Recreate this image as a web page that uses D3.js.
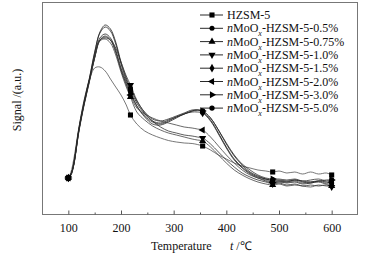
<!DOCTYPE html>
<html><head><meta charset="utf-8">
<script src="https://cdn.jsdelivr.net/npm/d3@7"></script>
<style>body{margin:0;background:#fff}svg{display:block}text{font-family:"Liberation Serif","Times New Roman",serif;fill:#111}</style>
</head><body><svg id="c" width="368" height="258"></svg>
<script>
const temps = [100,105,110,120,130,140,150,160,170,180,190,200,210,218,230,245,260,275,290,305,320,335,345,355,370,385,400,415,430,445,460,475,488,500,515,530,545,560,575,590,600];
const markerTemps = [100,218,355,488,600];
const seriesNames = ["HZSM-5","0.5%","0.75%","1.0%","1.5%","2.0%","3.0%","5.0%"];
const hzsm5   = [36,42,54,86,114,134,146,147,143,135,127,119,109,99,90,83,79,76,73.5,72,71,70.5,69.5,68,64,59,55,51,48,46,44,43,42,43,41,42,40,42,40,41,39];
const mo05    = [36,40,50,86,113,136,162,182,189,185,172,152,136,126,113,102,95,93,95,98,101,104,104,102,94,81,67,55,47,41,37,35,33,33,32,34,32,31,33,32,31];
const mo075   = [36,39,48,82,109,132,156,173,175,171,159,142,127,117,102,94,88,84,81,79,77,75,74,73,67,59,51,44,39,35,32,30,29,30,28,29,28,27,29,28,28];
const mo10    = [36,39,48,83,110,133,158,174,176,174,166,152,138,129,114,101,93,87,83,81,79,78,77,76,70,62,54,47,41,37,34,32,30,31,29,30,28,29,28,29,27];
const mo15    = [36,40,49,84,111,134,157,176,180,176,164,146,132,122,108,97,90,89,92,96,100,102,102,101,93,80,66,54,46,40,36,33,31,32,31,32,30,31,32,30,30];
const mo20    = [36,39,49,83,110,133,157,174,177,174,162,144,129,119,106,100,96,93,91,89,87,86,85,84,77,68,59,51,44,39,36,34,32,33,32,33,31,32,33,31,32];
const mo30    = [36,40,49,84,111,134,156,174,178,174,162,144,130,120,108,98,92,90,93,97,100,103,104,103,96,84,71,59,50,44,39,36,35,35,34,35,33,34,35,33,34];
const mo50    = [36,40,49,84,111,135,161,181,187,183,170,150,134,124,111,100,93,91,94,97,100,103,104,103,96,84,70,58,49,42,38,35,34,34,33,34,33,32,33,34,34];
const xTicks = [100,200,300,400,500,600];
const xMinor = [150,250,350,450,550];

const allSeries = [hzsm5,mo05,mo075,mo10,mo15,mo20,mo30,mo50];
const symbols = [
  {t:d3.symbolSquare,s:26,r:0},{t:d3.symbolCircle,s:20,r:0},{t:d3.symbolTriangle,s:22,r:0},
  {t:d3.symbolTriangle,s:22,r:180},{t:d3.symbolDiamond,s:22,r:0},{t:d3.symbolTriangle,s:22,r:-90},
  {t:d3.symbolTriangle,s:22,r:90},{t:d3.symbolCircle,s:22,r:0}];
const strokes = ["#555","#222","#444","#333","#222","#444","#333","#222"];

const svg = d3.select("#c");
const L=42,R=358,T=2,B=214;
const x = d3.scaleLinear().domain([50,650]).range([L,R]);
const y = d3.scaleLinear().domain([0,212]).range([B,T]);

svg.append("rect").attr("x",L+0.5).attr("y",T+0.5).attr("width",R-L-1).attr("height",B-T)
  .attr("fill","none").attr("stroke","#777").attr("stroke-width",1);

const xa = svg.append("g").attr("transform",`translate(0,${B+0.5})`)
  .call(d3.axisBottom(x).tickValues(xTicks).tickSize(-4).tickPadding(9).tickFormat(d3.format("d")));
xa.select(".domain").remove();
xa.selectAll("line").attr("stroke","#555");
xa.selectAll("text").attr("font-size",12).attr("font-family","Liberation Serif").attr("fill","#111");
const xm = svg.append("g").attr("transform",`translate(0,${B+0.5})`)
  .call(d3.axisBottom(x).tickValues(xMinor).tickSize(-2).tickFormat(""));
xm.select(".domain").remove();
xm.selectAll("line").attr("stroke","#555");

const line = d3.line().x((d,i)=>x(temps[i])).y(d=>y(d)).curve(d3.curveCatmullRom.alpha(0.5));
allSeries.forEach((s,k)=>{
  svg.append("path").attr("d",line(s)).attr("fill","none").attr("stroke",strokes[k]).attr("stroke-width",0.8);
});
allSeries.forEach((s,k)=>{
  const sym = d3.symbol().type(symbols[k].t).size(symbols[k].s);
  markerTemps.forEach(t=>{
    const i = temps.indexOf(t);
    svg.append("path").attr("d",sym()).attr("fill","#000")
      .attr("transform",`translate(${x(t)},${y(s[i])}) rotate(${symbols[k].r})`);
  });
});

// legend
const lg = svg.append("g");
seriesNames.forEach((n,k)=>{
  const yy = 15 + k*13.3;
  lg.append("line").attr("x1",200).attr("x2",223).attr("y1",yy).attr("y2",yy).attr("stroke","#111").attr("stroke-width",0.9);
  const sym = d3.symbol().type(symbols[k].t).size(symbols[k].s);
  lg.append("path").attr("d",sym()).attr("fill","#000").attr("transform",`translate(212,${yy}) rotate(${symbols[k].r})`);
  const t = lg.append("text").attr("x",227).attr("y",yy+4).attr("font-size",12);
  if(k===0){ t.text(n); }
  else {
    t.append("tspan").attr("font-style","italic").text("n");
    t.append("tspan").text("MoO");
    t.append("tspan").attr("font-style","italic").attr("font-size",8).attr("dy",4).text("x");
    t.append("tspan").attr("dy",-4).text("-HZSM-5-"+n);
  }
});

// axis titles
const xt = svg.append("text").attr("x",151).attr("y",250).attr("font-size",12);
xt.append("tspan").text("Temperature");
xt.append("tspan").attr("x",230).attr("font-style","italic").text("t");
xt.append("tspan").text(" /℃");
svg.append("text").attr("transform","translate(21,100) rotate(-90)").attr("text-anchor","middle")
  .attr("font-size",12).text("Signal /(a.u.)");
</script></body></html>
